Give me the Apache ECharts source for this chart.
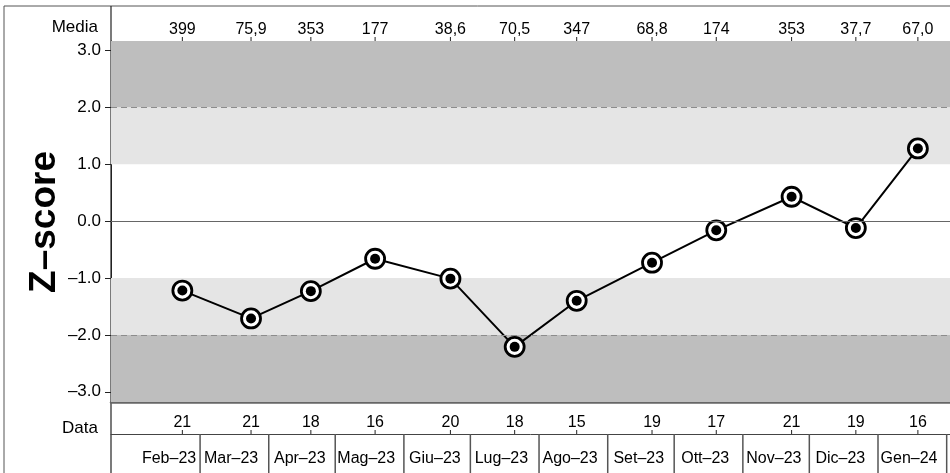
<!DOCTYPE html>
<html>
<head>
<meta charset="utf-8">
<title>Z-score</title>
<script src="https://cdn.jsdelivr.net/npm/echarts@6/dist/echarts.min.js"></script>
<style>
    html, body {margin: 0; padding: 0; background: #fff;}
    #chart {width: 950px; height: 473px;}
</style>
</head>
<body>
<div id="chart"></div>
<script>
    // dati del grafico
    var dates = ['2023-02-21', '2023-03-24', '2023-04-20', '2023-05-19', '2023-06-22', '2023-07-21',
        '2023-08-18', '2023-09-21', '2023-10-20', '2023-11-23', '2023-12-22', '2024-01-19'];
    var zScores = [-1.22, -1.71, -1.23, -0.66, -1.01, -2.21, -1.40, -0.73, -0.16, 0.43, -0.12, 1.28];
    var media = ['399', '75,9', '353', '177', '38,6', '70,5', '347', '68,8', '174', '353', '37,7', '67,0'];
    var counts = ['21', '21', '18', '16', '20', '18', '15', '19', '17', '21', '19', '16'];
    var months = ['Feb–23', 'Mar–23', 'Apr–23', 'Mag–23', 'Giu–23', 'Lug–23', 'Ago–23', 'Set–23',
        'Ott–23', 'Nov–23', 'Dic–23', 'Gen–24'];
    var monthStarts = ['2023-02-01', '2023-03-01', '2023-04-01', '2023-05-01', '2023-06-01', '2023-07-01',
        '2023-08-01', '2023-09-01', '2023-10-01', '2023-11-01', '2023-12-01', '2024-01-01', '2024-02-01'];
    var yTicks = [-3, -2, -1, 0, 1, 2, 3];
    var yMin = -3.18, yMax = 3.17;
    var xMin = Date.parse('2023-01-19T19:00:00Z'), xMax = Date.parse('2024-02-02T12:00:00Z');

    var DAY = 86400000;
    var font = 'Liberation Sans, Arial, sans-serif';
    var t = dates.map(function (d) { return Date.parse(d); });
    var points = t.map(function (v, i) { return [v, zScores[i]]; });
    var starts = monthStarts.map(function (d) { return Date.parse(d); });
    var mids = starts.slice(0, 12).map(function (v) { return v + 14 * DAY; });

    function pick(list, keys, v) {
        var i = keys.indexOf(v);
        return i < 0 ? '' : list[i];
    }

    // trattino verticale: da y0 (valore asse) verso l'alto/basso di len pixel
    function tickItem(yVal, len, color, width) {
        return function (params, api) {
            var p = api.coord([api.value(0), yVal]);
            return {
                type: 'line',
                shape: {x1: p[0], y1: p[1], x2: p[0], y2: p[1] + len},
                style: {stroke: color, lineWidth: width}
            };
        };
    }

    function sepItem(params, api) {
        var a = api.coord([api.value(0), 1]);
        var b = api.coord([api.value(0), 0]);
        return {
            type: 'line',
            shape: {x1: a[0], y1: a[1], x2: b[0], y2: b[1]},
            style: {stroke: '#555', lineWidth: 1.5}
        };
    }

    var myChart = echarts.init(document.getElementById('chart'));
    myChart.setOption({
        animation: false,
        textStyle: {fontFamily: font},
        grid: [
            {left: 111, right: 0, top: 41, height: 361},
            {left: 111, right: 0, top: 402, height: 32},
            {left: 111, right: 0, top: 434, height: 39}
        ],
        xAxis: [
            {
                gridIndex: 0, type: 'value', position: 'top', min: xMin, max: xMax,
                axisLine: {show: true, lineStyle: {color: '#222', width: 1}},
                axisTick: {show: false},
                axisLabel: {
                    customValues: t, margin: 3, fontSize: 16, color: '#000', fontFamily: font,
                    formatter: function (v) { return pick(media, t, v); }
                },
                splitLine: {show: false}
            },
            {
                gridIndex: 0, type: 'value', position: 'bottom', min: xMin, max: xMax,
                axisLine: {show: true, lineStyle: {color: '#666', width: 2.5}},
                axisTick: {show: false}, axisLabel: {show: false}, splitLine: {show: false}
            },
            {
                gridIndex: 1, type: 'value', position: 'bottom', min: xMin, max: xMax,
                axisLine: {show: true, lineStyle: {color: '#444', width: 1}},
                axisTick: {show: false},
                axisLabel: {
                    inside: true, customValues: t, margin: 3, fontSize: 16, color: '#000', fontFamily: font,
                    formatter: function (v) { return pick(counts, t, v); }
                },
                splitLine: {show: false}
            },
            {
                gridIndex: 2, type: 'value', position: 'top', min: xMin, max: xMax,
                axisLine: {show: false},
                axisTick: {show: false},
                axisLabel: {
                    inside: true, customValues: mids, margin: 17, fontSize: 16, color: '#000', fontFamily: font,
                    formatter: function (v) { return pick(months, mids, v); }
                },
                splitLine: {show: false}
            }
        ],
        yAxis: [
            {
                gridIndex: 0, type: 'value', min: yMin, max: yMax,
                axisLine: {show: true, lineStyle: {color: '#222'}},
                axisTick: {show: true, customValues: yTicks, length: 6, lineStyle: {color: '#222'}},
                axisLabel: {
                    customValues: yTicks, margin: 10, fontSize: 17, color: '#000', fontFamily: font,
                    formatter: function (v) { return v.toFixed(1).replace('-', '–'); }
                },
                splitLine: {show: false}
            },
            {gridIndex: 1, type: 'value', min: 0, max: 1, show: false},
            {gridIndex: 2, type: 'value', min: 0, max: 1, show: false}
        ],
        graphic: [
            {type: 'rect', shape: {x: 4, y: 6, width: 960, height: 480}, style: {fill: 'none', stroke: '#555', lineWidth: 1}, silent: true},
            {type: 'line', shape: {x1: 111, y1: 6, x2: 111, y2: 473}, style: {stroke: '#222', lineWidth: 1.2}, silent: true},
            {type: 'text', x: 98, y: 27, style: {text: 'Media', font: '17px ' + font, fill: '#000', align: 'right', verticalAlign: 'middle'}},
            {type: 'text', x: 98, y: 428, style: {text: 'Data', font: '17px ' + font, fill: '#000', align: 'right', verticalAlign: 'middle'}},
            {type: 'text', x: 45, y: 222, rotation: Math.PI / 2,
                style: {text: 'Z–score', font: 'bold 37px ' + font, fill: '#000', align: 'center', verticalAlign: 'middle'}}
        ],
        series: [
            {
                name: 'fasce', type: 'line', xAxisIndex: 0, yAxisIndex: 0, data: [], z: 1, silent: true,
                markArea: {
                    silent: true,
                    data: [
                        [{yAxis: 2, itemStyle: {color: '#bebebe'}}, {yAxis: yMax}],
                        [{yAxis: 1, itemStyle: {color: '#e5e5e5'}}, {yAxis: 2}],
                        [{yAxis: -2, itemStyle: {color: '#e5e5e5'}}, {yAxis: -1}],
                        [{yAxis: yMin, itemStyle: {color: '#bebebe'}}, {yAxis: -2}]
                    ]
                },
                markLine: {
                    silent: true, symbol: 'none', label: {show: false},
                    data: [
                        {yAxis: 2, lineStyle: {color: '#8c8c8c', type: [6, 4], width: 1}},
                        {yAxis: -2, lineStyle: {color: '#8c8c8c', type: [6, 4], width: 1}},
                        {yAxis: 0, lineStyle: {color: '#666', type: 'solid', width: 1}}
                    ]
                }
            },
            {
                name: 'Z-score', type: 'line', xAxisIndex: 0, yAxisIndex: 0, data: points, z: 3,
                lineStyle: {color: '#000', width: 2},
                symbol: 'circle', symbolSize: 19,
                itemStyle: {color: '#fff', borderColor: '#000', borderWidth: 2.8}
            },
            {
                name: 'punti', type: 'scatter', xAxisIndex: 0, yAxisIndex: 0, data: points, z: 4,
                symbolSize: 10, itemStyle: {color: '#000', opacity: 1}
            },
            // tacche della riga "Media"
            {
                name: 'tacche media', type: 'custom', xAxisIndex: 0, yAxisIndex: 0, silent: true,
                data: t.map(function (v) { return [v]; }), renderItem: tickItem(yMax, -4, '#222', 1)
            },
            // tacche della riga "Data"
            {
                name: 'tacche data', type: 'custom', xAxisIndex: 2, yAxisIndex: 1, silent: true,
                data: t.map(function (v) { return [v]; }), renderItem: tickItem(0, -4, '#222', 1)
            },
            // separatori dei mesi
            {
                name: 'mesi', type: 'custom', xAxisIndex: 3, yAxisIndex: 2, silent: true,
                data: starts.slice(1).map(function (v) { return [v]; }), renderItem: sepItem
            }
        ]
    });
</script>
</body>
</html>
